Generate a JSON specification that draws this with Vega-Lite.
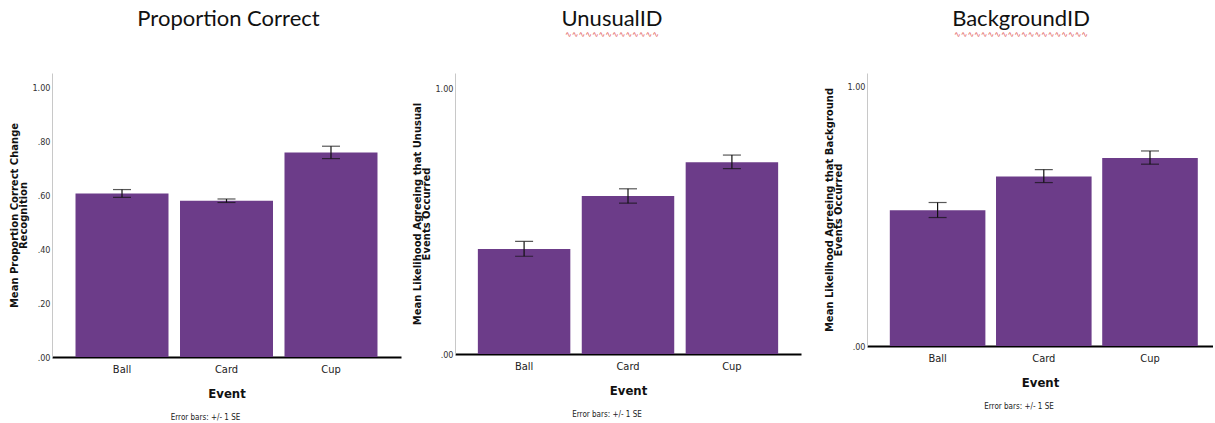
{
  "$schema": "https://vega.github.io/schema/vega-lite/v6.json",
  "background": "white",
  "padding": {"left": 9, "top": 8, "right": 0, "bottom": 0},
  "spacing": 23,
  "data": {"values": [
    {"panel": "pc", "event": "Ball", "mean": 0.607, "lo": 0.593, "hi": 0.622},
    {"panel": "pc", "event": "Card", "mean": 0.580, "lo": 0.574, "hi": 0.587},
    {"panel": "pc", "event": "Cup", "mean": 0.760, "lo": 0.737, "hi": 0.783},
    {"panel": "un", "event": "Ball", "mean": 0.395, "lo": 0.368, "hi": 0.424},
    {"panel": "un", "event": "Card", "mean": 0.595, "lo": 0.568, "hi": 0.622},
    {"panel": "un", "event": "Cup", "mean": 0.722, "lo": 0.698, "hi": 0.749},
    {"panel": "bg", "event": "Ball", "mean": 0.524, "lo": 0.496, "hi": 0.554},
    {"panel": "bg", "event": "Card", "mean": 0.654, "lo": 0.631, "hi": 0.681},
    {"panel": "bg", "event": "Cup", "mean": 0.726, "lo": 0.702, "hi": 0.753}
  ]},
  "hconcat": [
    {
      "spacing": 11,
      "hconcat": [
        {
          "title": {"text": "Error bars: +/- 1 SE", "orient": "bottom", "anchor": "middle", "fontSize": 8, "font": "DejaVu Sans Condensed", "fontWeight": "normal", "offset": 14, "color": "#222"},
          "vconcat": [
            {
              "title": {"text": "Proportion Correct", "subtitle": " ", "subtitleFontSize": 8, "subtitlePadding": 0, "dx": 2, "offset": 33},
              "width": 349,
              "height": 284,
              "transform": [{"filter": "datum.panel == 'pc'"}],
              "encoding": {
                "x": {"field": "event", "type": "nominal", "sort": ["Ball", "Card", "Cup"], "scale": {"paddingInner": 0.11, "paddingOuter": 0.225}, "axis": {"title": "Event"}}
              },
              "layer": [
                {"mark": {"type": "bar", "color": "#6C3C89"}, "encoding": {"y": {"field": "mean", "type": "quantitative", "title": ["Mean Proportion Correct Change", "Recognition"], "scale": {"domain": [0, 1.055], "nice": false}, "axis": {"values": [0, 0.2, 0.4, 0.6, 0.8, 1], "labelExpr": "replace(format(datum.value, '.2f'), '0.', '.')"}}}},
                {"mark": {"type": "rule", "color": "#111", "strokeWidth": 1.2}, "encoding": {"y": {"field": "lo", "type": "quantitative", "title": ["Mean Proportion Correct Change", "Recognition"]}, "y2": {"field": "hi"}}},
                {"mark": {"type": "tick", "color": "#111", "size": 18, "thickness": 1.2}, "encoding": {"y": {"field": "lo", "type": "quantitative", "title": ["Mean Proportion Correct Change", "Recognition"]}}},
                {"mark": {"type": "tick", "color": "#111", "size": 18, "thickness": 1.2}, "encoding": {"y": {"field": "hi", "type": "quantitative", "title": ["Mean Proportion Correct Change", "Recognition"]}}}
              ]
            }
          ]
        },
        {
          "title": {"text": "Error bars: +/- 1 SE", "orient": "bottom", "anchor": "middle", "fontSize": 8, "font": "DejaVu Sans Condensed", "fontWeight": "normal", "offset": 14, "color": "#222"},
          "vconcat": [
            {
              "title": {"text": "UnusualID", "subtitle": "∿∿∿∿∿∿∿∿∿∿∿∿∿∿", "subtitleFont": "DejaVu Sans", "subtitleColor": "#e05050", "subtitleFontSize": 8, "subtitlePadding": 0, "dx": -16, "offset": 33},
              "width": 346,
              "height": 281,
              "transform": [{"filter": "datum.panel == 'un'"}],
              "encoding": {
                "x": {"field": "event", "type": "nominal", "sort": ["Ball", "Card", "Cup"], "scale": {"paddingInner": 0.11, "paddingOuter": 0.22}, "axis": {"title": "Event"}}
              },
              "layer": [
                {"mark": {"type": "bar", "color": "#6C3C89"}, "encoding": {"y": {"field": "mean", "type": "quantitative", "title": ["Mean Likelihood Agreeing that Unusual", "Events Occurred"], "scale": {"domain": [0, 1.058], "nice": false}, "axis": {"values": [0, 1], "labelExpr": "replace(format(datum.value, '.2f'), '0.', '.')"}}}},
                {"mark": {"type": "rule", "color": "#111", "strokeWidth": 1.2}, "encoding": {"y": {"field": "lo", "type": "quantitative", "title": ["Mean Likelihood Agreeing that Unusual", "Events Occurred"]}, "y2": {"field": "hi"}}},
                {"mark": {"type": "tick", "color": "#111", "size": 18, "thickness": 1.2}, "encoding": {"y": {"field": "lo", "type": "quantitative", "title": ["Mean Likelihood Agreeing that Unusual", "Events Occurred"]}}},
                {"mark": {"type": "tick", "color": "#111", "size": 18, "thickness": 1.2}, "encoding": {"y": {"field": "hi", "type": "quantitative", "title": ["Mean Likelihood Agreeing that Unusual", "Events Occurred"]}}}
              ]
            }
          ]
        }
      ]
    },
    {
      "title": {"text": "Error bars: +/- 1 SE", "orient": "bottom", "anchor": "middle", "fontSize": 8, "font": "DejaVu Sans Condensed", "fontWeight": "normal", "offset": 14, "color": "#222"},
      "vconcat": [
        {
          "title": {"text": "BackgroundID", "subtitle": "∿∿∿∿∿∿∿∿∿∿∿∿∿∿∿∿∿∿∿∿", "subtitleFont": "DejaVu Sans", "subtitleColor": "#e05050", "subtitleFontSize": 8, "subtitlePadding": 0, "dx": -19, "offset": 33},
          "width": 346,
          "height": 273,
          "transform": [{"filter": "datum.panel == 'bg'"}],
          "encoding": {
            "x": {"field": "event", "type": "nominal", "sort": ["Ball", "Card", "Cup"], "scale": {"paddingInner": 0.1, "paddingOuter": 0.179, "align": 0.6}, "axis": {"title": "Event"}}
          },
          "layer": [
            {"mark": {"type": "bar", "color": "#6C3C89"}, "encoding": {"y": {"field": "mean", "type": "quantitative", "title": ["Mean Likelihood Agreeing that Background", "Events Occurred"], "scale": {"domain": [0, 1.054], "nice": false}, "axis": {"values": [0, 1], "labelExpr": "replace(format(datum.value, '.2f'), '0.', '.')"}}}},
            {"mark": {"type": "rule", "color": "#111", "strokeWidth": 1.2}, "encoding": {"y": {"field": "lo", "type": "quantitative", "title": ["Mean Likelihood Agreeing that Background", "Events Occurred"]}, "y2": {"field": "hi"}}},
            {"mark": {"type": "tick", "color": "#111", "size": 18, "thickness": 1.2}, "encoding": {"y": {"field": "lo", "type": "quantitative", "title": ["Mean Likelihood Agreeing that Background", "Events Occurred"]}}},
            {"mark": {"type": "tick", "color": "#111", "size": 18, "thickness": 1.2}, "encoding": {"y": {"field": "hi", "type": "quantitative", "title": ["Mean Likelihood Agreeing that Background", "Events Occurred"]}}}
          ]
        }
      ]
    }
  ],
  "config": {
    "view": {"stroke": null},
    "title": {"font": "Lato", "fontSize": 22, "fontWeight": "normal", "color": "#111", "anchor": "middle"},
    "axisY": {"grid": false, "ticks": false, "domainColor": "#c8c8c8", "domainWidth": 1, "labelFont": "DejaVu Sans Condensed", "labelFontSize": 9, "labelColor": "#333", "labelPadding": 2, "titleFont": "DejaVu Sans", "titleFontWeight": "bold", "titleFontSize": 10, "titleColor": "#111", "titlePadding": 3, "titleLineHeight": 9},
    "axisX": {"grid": false, "ticks": false, "domainColor": "#000", "domainWidth": 2, "labelFont": "DejaVu Sans Condensed", "labelFontSize": 11, "labelColor": "#222", "labelPadding": 6, "labelAngle": 0, "titleFont": "DejaVu Sans Condensed", "titleFontWeight": "bold", "titleFontSize": 13, "titleColor": "#111", "titlePadding": 13}
  }
}
